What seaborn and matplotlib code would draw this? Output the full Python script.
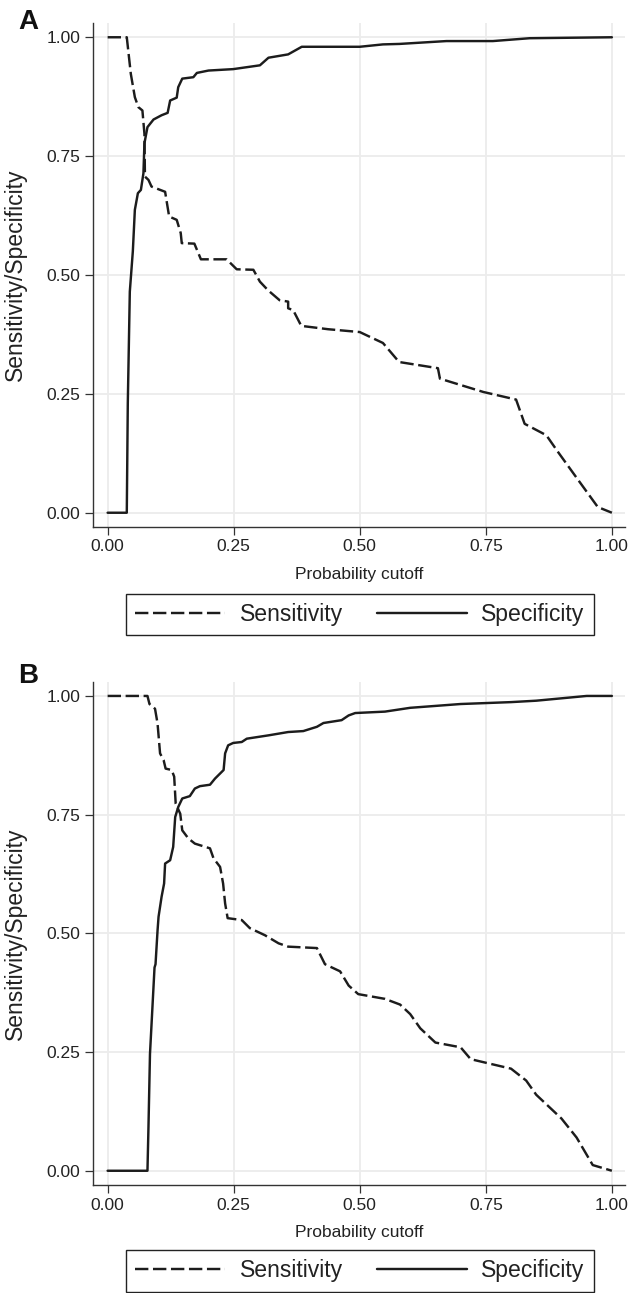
import numpy as np
import pandas as pd
import seaborn as sns
import matplotlib
matplotlib.use("Agg")
import matplotlib.pyplot as plt

# ---------------- data ----------------
a_sens_x = [0.0, 0.038, 0.046, 0.054, 0.061, 0.069, 0.073, 0.074, 0.081, 0.087, 0.114, 0.122,
            0.137, 0.145, 0.147, 0.172, 0.185, 0.236, 0.256, 0.289, 0.302, 0.318, 0.341, 0.358,
            0.358, 0.368, 0.384, 0.437, 0.500, 0.546, 0.578, 0.655, 0.659, 0.745, 0.810, 0.827,
            0.870, 0.893, 0.929, 0.972, 1.0]
a_sens_y = [1.0, 1.0, 0.923, 0.874, 0.853, 0.846, 0.797, 0.707, 0.700, 0.686, 0.675, 0.623,
            0.616, 0.588, 0.567, 0.566, 0.533, 0.533, 0.512, 0.511, 0.486, 0.468, 0.447, 0.444,
            0.430, 0.426, 0.393, 0.386, 0.380, 0.357, 0.317, 0.304, 0.282, 0.254, 0.238, 0.187,
            0.163, 0.128, 0.075, 0.012, 0.0]

a_spec_x = [0.0, 0.038, 0.040, 0.044, 0.050, 0.054, 0.060, 0.066, 0.071, 0.073, 0.079, 0.091,
            0.107, 0.119, 0.124, 0.137, 0.140, 0.148, 0.170, 0.177, 0.200, 0.249, 0.302, 0.319,
            0.358, 0.385, 0.500, 0.546, 0.579, 0.672, 0.764, 0.837, 1.0]
a_spec_y = [0.0, 0.0, 0.230, 0.465, 0.550, 0.637, 0.672, 0.679, 0.714, 0.777, 0.811, 0.827,
            0.836, 0.841, 0.867, 0.873, 0.895, 0.913, 0.916, 0.925, 0.930, 0.933, 0.941, 0.957,
            0.964, 0.980, 0.980, 0.985, 0.986, 0.992, 0.992, 0.998, 1.0]

b_sens_x = [0.0, 0.079, 0.083, 0.094, 0.099, 0.104, 0.111, 0.115, 0.127, 0.132, 0.135, 0.144,
            0.148, 0.160, 0.173, 0.203, 0.210, 0.223, 0.229, 0.233, 0.238, 0.266, 0.282, 0.312,
            0.339, 0.358, 0.415, 0.431, 0.461, 0.478, 0.497, 0.550, 0.580, 0.600, 0.620, 0.650,
            0.700, 0.720, 0.800, 0.830, 0.850, 0.870, 0.900, 0.930, 0.962, 1.0]
b_sens_y = [1.0, 1.0, 0.983, 0.973, 0.942, 0.879, 0.865, 0.847, 0.844, 0.830, 0.773, 0.752,
            0.717, 0.700, 0.689, 0.679, 0.658, 0.640, 0.605, 0.563, 0.532, 0.528, 0.511, 0.496,
            0.479, 0.472, 0.469, 0.435, 0.420, 0.390, 0.372, 0.362, 0.350, 0.330, 0.300, 0.270,
            0.260, 0.235, 0.215, 0.190, 0.160, 0.140, 0.110, 0.070, 0.012, 0.0]

b_spec_x = [0.0, 0.079, 0.081, 0.084, 0.093, 0.095, 0.099, 0.101, 0.107, 0.112, 0.114, 0.124,
            0.130, 0.134, 0.140, 0.148, 0.163, 0.173, 0.183, 0.203, 0.213, 0.230, 0.233, 0.239,
            0.249, 0.266, 0.276, 0.319, 0.358, 0.388, 0.415, 0.428, 0.464, 0.478, 0.491, 0.550,
            0.600, 0.650, 0.700, 0.750, 0.800, 0.850, 0.900, 0.950, 1.0]
b_spec_y = [0.0, 0.0, 0.092, 0.246, 0.428, 0.435, 0.506, 0.535, 0.577, 0.605, 0.647, 0.654,
            0.682, 0.745, 0.766, 0.784, 0.789, 0.805, 0.810, 0.813, 0.826, 0.844, 0.879, 0.896,
            0.901, 0.903, 0.910, 0.917, 0.924, 0.926, 0.935, 0.943, 0.949, 0.959, 0.964, 0.967,
            0.975, 0.979, 0.983, 0.985, 0.987, 0.990, 0.995, 1.0, 1.0]

tick_vals = [0.0, 0.25, 0.5, 0.75, 1.0]
tick_labels = ["0.00", "0.25", "0.50", "0.75", "1.00"]
panel_labels = ["A", "B"]
series_names = ["Sensitivity", "Specificity"]
x_title = "Probability cutoff"
y_title = "Sensitivity/Specificity"

# ---------------- style ----------------
sns.set_theme(style="whitegrid")
plt.rcParams["font.family"] = ["Liberation Sans", "DejaVu Sans"]

LINE = "#1c1c1c"
TXT = "#222222"
W, H = 632, 1293
fig = plt.figure(figsize=(W / 100, H / 100), dpi=100)

def frac_rect(left, top, right, bottom):
    return [left / W, 1 - bottom / H, (right - left) / W, (bottom - top) / H]

axes_px = [(93, 23, 625, 527), (93, 681.7, 625, 1185)]
legend_cy = [614.5, 1271]
label_baseline = [29, 683]

panels = [
    (a_sens_x, a_sens_y, a_spec_x, a_spec_y),
    (b_sens_x, b_sens_y, b_spec_x, b_spec_y),
]

for i, (sx, sy, px, py) in enumerate(panels):
    ax = fig.add_axes(frac_rect(*axes_px[i]))
    ax.set_facecolor("white")
    sns.lineplot(x=sx, y=sy, ax=ax, color=LINE, linewidth=1.75, sort=False,
                 estimator=None, label=series_names[0])
    sns.lineplot(x=px, y=py, ax=ax, color=LINE, linewidth=1.75, sort=False,
                 estimator=None, label=series_names[1])
    lines = ax.get_lines()
    lines[0].set_dashes((5.5, 1.9))
    lines[1].set_linestyle("-")
    ax.get_legend().remove()

    ax.set_xlim(-0.029, 1.026)
    ax.set_ylim(-0.030, 1.030)
    ax.set_xticks(tick_vals)
    ax.set_xticklabels(tick_labels)
    ax.set_yticks(tick_vals)
    ax.set_yticklabels(tick_labels)
    ax.grid(True, color="#ececec", linewidth=1.3)
    for s in ["top", "right"]:
        ax.spines[s].set_visible(False)
    for s in ["left", "bottom"]:
        ax.spines[s].set_visible(True)
        ax.spines[s].set_color("#333333")
        ax.spines[s].set_linewidth(1.0)
    ax.tick_params(axis="both", which="major", direction="out", length=5.5, width=0.9,
                   color="#333333", labelsize=12.5, labelcolor=TXT, pad=3.5,
                   bottom=True, left=True)
    ax.set_xlabel(x_title, fontsize=12.5, color=TXT)
    ax.set_ylabel(y_title, fontsize=16.5, color=TXT)
    ax.xaxis.set_label_coords(0.5, -0.08)
    ax.yaxis.set_label_coords(-0.124, 0.5)

    leg = fig.legend(handles=lines, labels=series_names, loc="center",
                     bbox_to_anchor=(360 / W, 1 - legend_cy[i] / H), ncol=2,
                     frameon=True, fancybox=False, shadow=False, fontsize=16.6,
                     handlelength=3.9, handletextpad=0.62, columnspacing=1.5,
                     borderpad=0.4, labelcolor=TXT)
    fr = leg.get_frame()
    fr.set_edgecolor("#222222")
    fr.set_linewidth(1.0)
    fr.set_facecolor("white")
    fr.set_alpha(1)

    fig.text(18 / W, 1 - label_baseline[i] / H, panel_labels[i], fontsize=20,
             fontweight="bold", color="#111111", ha="left", va="baseline")

fig.savefig("out.png", dpi=100, facecolor="white")
